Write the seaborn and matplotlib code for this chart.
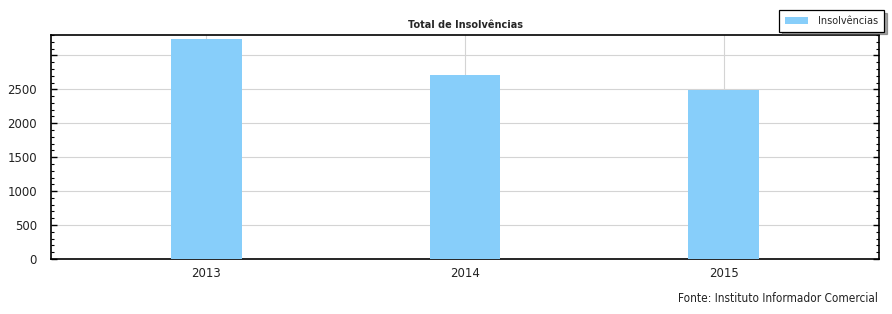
import matplotlib
matplotlib.use("Agg")
import matplotlib.pyplot as plt
import seaborn as sns
import pandas as pd
from matplotlib.ticker import MultipleLocator
from matplotlib.patches import Patch

anos = ["2013", "2014", "2015"]
insolvencias = [3235, 2705, 2490]
serie = "Insolvências"

sns.set_style("white")
plt.rcParams['font.family'] = ['DejaVu Sans']

df = pd.DataFrame({"Ano": anos, "Valor": insolvencias, "Serie": serie})

fig = plt.figure(figsize=(8.92, 3.14), dpi=100)
ax = fig.add_axes([51/892, 1-259/314, (879-51)/892, (259-35)/314])

sns.barplot(data=df, x="Ano", y="Valor", hue="Serie", palette=["#87CEFA"],
            width=0.274, ax=ax, legend=False, zorder=3, saturation=1,
            linewidth=0, edgecolor="none")

ax.set_xlim(-0.6, 2.6)
ax.set_ylim(0, 3300)
ax.set_xlabel("")
ax.set_ylabel("")

yt = [0, 500, 1000, 1500, 2000, 2500, 3000]
ax.set_yticks(yt)
ax.set_yticklabels([str(v) if v <= 2500 else "" for v in yt], fontsize=8.5)
ax.yaxis.set_minor_locator(MultipleLocator(100))
ax.tick_params(axis="y", which="major", direction="in", length=4, width=1,
               left=True, right=True, colors="black", labelcolor="#222222", pad=10)
ax.tick_params(axis="y", which="minor", direction="in", length=2, width=0.8,
               left=True, right=True, colors="black")
ax.tick_params(axis="x", length=0, labelsize=8.5, labelcolor="#222222", pad=6)

ax.grid(True, axis="both", color="#d4d4d4", linewidth=0.8, zorder=0)
ax.set_axisbelow(True)
for s in ax.spines.values():
    s.set_visible(True)
    s.set_color("black")
    s.set_linewidth(1.2)

fig.text(465/892, 1-25/314, "Total de Insolvências", ha="center", va="center",
         fontsize=7, fontweight="bold")
fig.text(878/892, 1-298/314, "Fonte: Instituto Informador Comercial",
         ha="right", va="center", fontsize=8.5, color="#222222",
         fontstretch="condensed")

h = [Patch(facecolor="#87CEFA", edgecolor="none", label=serie)]
leg = fig.legend(handles=h, loc="upper right", bbox_to_anchor=(884/892, 1-10/314),
                 frameon=True, fancybox=False, shadow=True, edgecolor="black",
                 fontsize=7, handlelength=2.4, handleheight=0.7, borderpad=0.6,
                 handletextpad=1.0, borderaxespad=0)
leg.get_frame().set_linewidth(0.9)

fig.savefig("out.png", dpi=100)
